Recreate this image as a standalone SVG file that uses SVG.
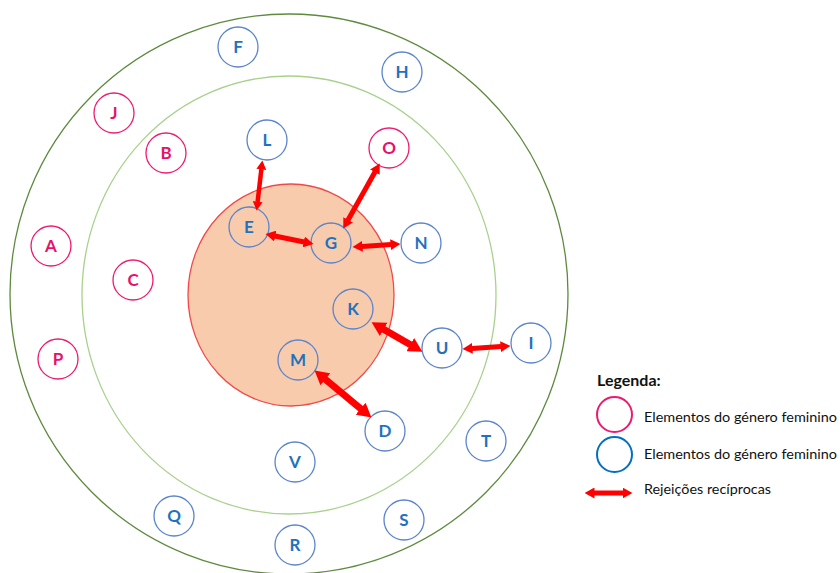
<svg xmlns="http://www.w3.org/2000/svg" width="840" height="573" viewBox="0 0 840 573">
<style>
.f circle{fill:none;stroke:#EE1A6E;stroke-width:1.3}
.m circle{fill:none;stroke:#5B84CC;stroke-width:1.3}
.f text{fill:#E8106A}
.m text{fill:#1F72BE}
.n text{font-family:Lato,"Liberation Sans",sans-serif;font-weight:bold;font-size:17px;text-anchor:middle}
.arr{stroke:#FF0000;fill:none}
.lg{font-family:Lato,"Liberation Sans",sans-serif;font-size:14px;fill:#111}
</style>
<defs>
<marker id="ah" markerUnits="strokeWidth" viewBox="0 0 2 2.2" markerWidth="2" markerHeight="2.2" refX="0.1" refY="1.1" orient="auto-start-reverse">
<path d="M0,0 L2,1.1 L0,2.2 z" fill="#FF0000"/>
</marker>
</defs>
<rect width="840" height="573" fill="#fff"/>
<g id="rings">
<ellipse cx="289" cy="294" rx="279" ry="280" fill="none" stroke="#5E8A3E" stroke-width="1.3"/>
<ellipse cx="289" cy="295" rx="207" ry="219" fill="none" stroke="#A9D18E" stroke-width="1.3"/>
<ellipse cx="291" cy="295" rx="103" ry="111" fill="#F8CBAD" stroke="#F24848" stroke-width="1.3"/>
</g>
<g id="nodes" class="n">
<g id="F" class="m"><circle cx="238" cy="47" r="20"/><text x="238" y="53">F</text></g>
<g id="H" class="m"><circle cx="402" cy="72" r="20"/><text x="402" y="78">H</text></g>
<g id="J" class="f"><circle cx="114" cy="113" r="20"/><text x="114" y="119">J</text></g>
<g id="B" class="f"><circle cx="166" cy="153" r="20"/><text x="166" y="159">B</text></g>
<g id="L" class="m"><circle cx="267" cy="140" r="20"/><text x="267" y="146">L</text></g>
<g id="O" class="f"><circle cx="389" cy="148" r="20"/><text x="389" y="154">O</text></g>
<g id="A" class="f"><circle cx="51" cy="246" r="20"/><text x="51" y="252">A</text></g>
<g id="C" class="f"><circle cx="133" cy="280" r="20"/><text x="133" y="286">C</text></g>
<g id="E" class="m"><circle cx="249" cy="227" r="20"/><text x="249" y="233">E</text></g>
<g id="G" class="m"><circle cx="331" cy="243" r="20"/><text x="331" y="249">G</text></g>
<g id="N" class="m"><circle cx="421" cy="243" r="20"/><text x="421" y="249">N</text></g>
<g id="K" class="m"><circle cx="353" cy="309" r="20"/><text x="353" y="315">K</text></g>
<g id="U" class="m"><circle cx="442" cy="348" r="20"/><text x="442" y="354">U</text></g>
<g id="I" class="m"><circle cx="531" cy="343" r="20"/><text x="531" y="349">I</text></g>
<g id="P" class="f"><circle cx="58" cy="359" r="20"/><text x="58" y="365">P</text></g>
<g id="M" class="m"><circle cx="298" cy="360" r="20"/><text x="298" y="366">M</text></g>
<g id="D" class="m"><circle cx="385" cy="431" r="20"/><text x="385" y="437">D</text></g>
<g id="T" class="m"><circle cx="486" cy="441" r="20"/><text x="486" y="447">T</text></g>
<g id="V" class="m"><circle cx="295" cy="462" r="20"/><text x="295" y="468">V</text></g>
<g id="Q" class="m"><circle cx="174" cy="516" r="20"/><text x="174" y="522">Q</text></g>
<g id="S" class="m"><circle cx="404" cy="520" r="20"/><text x="404" y="526">S</text></g>
<g id="R" class="m"><circle cx="295" cy="545" r="20"/><text x="295" y="551">R</text></g>
</g>
<g id="connectors" class="arr" marker-start="url(#ah)" marker-end="url(#ah)">
<line x1="261.4" y1="168.9" x2="257.6" y2="202.1" stroke-width="4.5"/>
<line x1="375.1" y1="171.7" x2="347.9" y2="220.3" stroke-width="5"/>
<line x1="274.8" y1="236" x2="304.2" y2="242" stroke-width="5"/>
<line x1="362" y1="246.4" x2="391" y2="244.6" stroke-width="5"/>
<line x1="383.1" y1="329" x2="410.9" y2="345" stroke-width="7"/>
<line x1="472" y1="348.4" x2="501" y2="346.6" stroke-width="5"/>
<line x1="324.8" y1="378.9" x2="361.2" y2="409.1" stroke-width="7"/>
</g>
<g id="legend">
<text x="597" y="386" font-family="Lato,'Liberation Sans',sans-serif" font-weight="bold" font-size="16" fill="#111">Legenda:</text>
<circle cx="614.5" cy="414.5" r="17.5" fill="none" stroke="#EE1A6E" stroke-width="2"/>
<text class="lg" x="644" y="422" textLength="193" lengthAdjust="spacingAndGlyphs">Elementos do género feminino</text>
<circle cx="614.5" cy="454.5" r="17.5" fill="none" stroke="#0070C0" stroke-width="2"/>
<text class="lg" x="644" y="459" textLength="193" lengthAdjust="spacingAndGlyphs">Elementos do género feminino</text>
<line x1="594" y1="493" x2="623" y2="493" class="arr" stroke-width="5" marker-start="url(#ah)" marker-end="url(#ah)"/>
<text class="lg" x="644" y="494" textLength="127" lengthAdjust="spacingAndGlyphs">Rejeições recíprocas</text>
</g>
</svg>
